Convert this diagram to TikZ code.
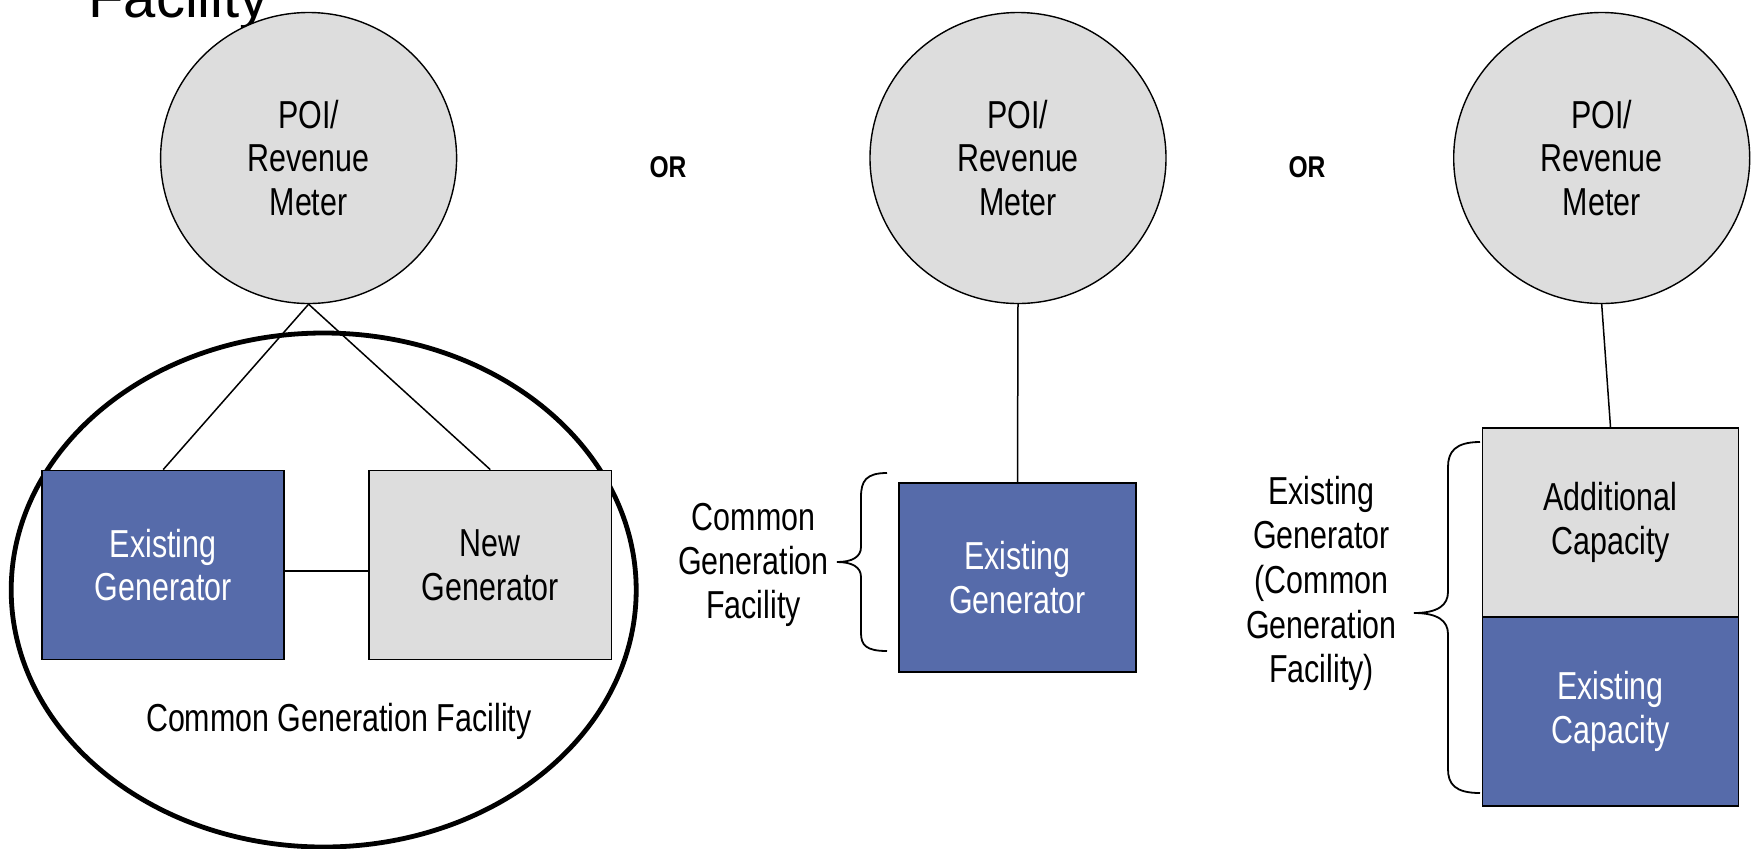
\documentclass[tikz,border=0pt]{standalone}
\usepackage{fontspec}
\setmainfont{Liberation Sans}[FakeStretch=0.78]
\newfontfamily\titlefont{Liberation Sans}
\newfontfamily\orfont{Liberation Sans}[FakeStretch=0.82]
\usetikzlibrary{shapes.geometric}
\definecolor{genblue}{RGB}{86,107,170}
\definecolor{boxgray}{RGB}{221,221,221}
\begin{document}
\begin{tikzpicture}[x=0.5pt,y=-0.5pt,
  txt/.style={font=\fontsize{19.5}{21.8}\selectfont, align=center, inner sep=0pt},
  poi/.style={txt, ellipse, draw, fill=boxgray, line width=0.7pt,
    minimum width=148pt, minimum height=145.5pt},
  bluebox/.style={txt, draw, fill=genblue, text=white, line width=0.9pt,
    minimum width=120.75pt, minimum height=94.5pt},
  graybox/.style={txt, draw, fill=boxgray, line width=0.9pt,
    minimum width=120.75pt, minimum height=94.5pt},
  sidelabel/.style={font=\fontsize{19.5}{22}\selectfont, align=center, inner sep=0pt},
  conn/.style={line width=0.75pt},
  bracestyle/.style={line width=0.9pt},
  ortxt/.style={font=\orfont\bfseries\fontsize{15}{17}\selectfont, inner sep=0pt}]
\useasboundingbox (0,0) rectangle (1753,848);
\fill[white] (0,0) rectangle (1753,848);

% title fragment
\node[anchor=base west, inner sep=0pt, font=\titlefont\fontsize{29}{31}\selectfont] (title) at (88,17) {Facility};

% ---- left option ----
\node[draw, ellipse, line width=2.4pt, minimum width=312.5pt, minimum height=257pt] (cgf) at (323.7,590) {};
\node[poi] (poi1) at (308.6,158) {POI/\\Revenue\\Meter};
\node[bluebox, minimum width=121pt] (eg1) at (163.2,565) {Existing\\Generator};
\node[graybox, minimum width=121.25pt] (ng) at (490.3,565) {New\\Generator};
\draw[conn] (poi1.south) -- (eg1.north);
\draw[conn] (poi1.south) -- (ng.north);
\draw[conn] ([yshift=-3pt]eg1.east) -- ([yshift=-3pt]ng.west);
\node[txt] (cgflabel) at (338.8,721) {Common Generation Facility};

\node[ortxt] (or1) at (668,167) {OR};

% ---- middle option ----
\node[poi] (poi2) at (1018,158) {POI/\\Revenue\\Meter};
\node[bluebox, minimum width=118.5pt] (eg2) at (1017.5,577.5) {Existing\\Generator};
\draw[conn] (poi2.south) -- (eg2.north);
\node[sidelabel] (lab2) at (753.5,564.5) {Common\\Generation\\Facility};
\draw[bracestyle] (887,473) .. controls (866,473) and (861,481) .. (861,497)
  -- (861,547) .. controls (861,557) and (852,562) .. (837,562)
  .. controls (852,562) and (861,567) .. (861,577)
  -- (861,633) .. controls (861,645) and (866,651) .. (887,651);

\node[ortxt] (or2) at (1307,167) {OR};

% ---- right option ----
\node[poi] (poi3) at (1601.7,158) {POI/\\Revenue\\Meter};
\node[graybox, minimum width=128pt] (add) at (1610.5,522.5) {Additional\\Capacity};
\node[bluebox, minimum width=128pt] (exc) at (1610.5,711.5) {Existing\\Capacity};
\draw[conn] (poi3.south) -- (add.north);
\node[sidelabel, font=\fontsize{19.5}{22.3}\selectfont] (lab3) at (1321.5,583.5) {Existing\\Generator\\(Common\\Generation\\Facility)};
\draw[bracestyle] (1480,442) .. controls (1455,442) and (1448,452) .. (1448,467)
  -- (1448,592) .. controls (1448,605) and (1438,613) .. (1414,613)
  .. controls (1438,613) and (1448,621) .. (1448,634)
  -- (1448,769) .. controls (1448,784) and (1455,793) .. (1480,793);
\end{tikzpicture}
\end{document}
